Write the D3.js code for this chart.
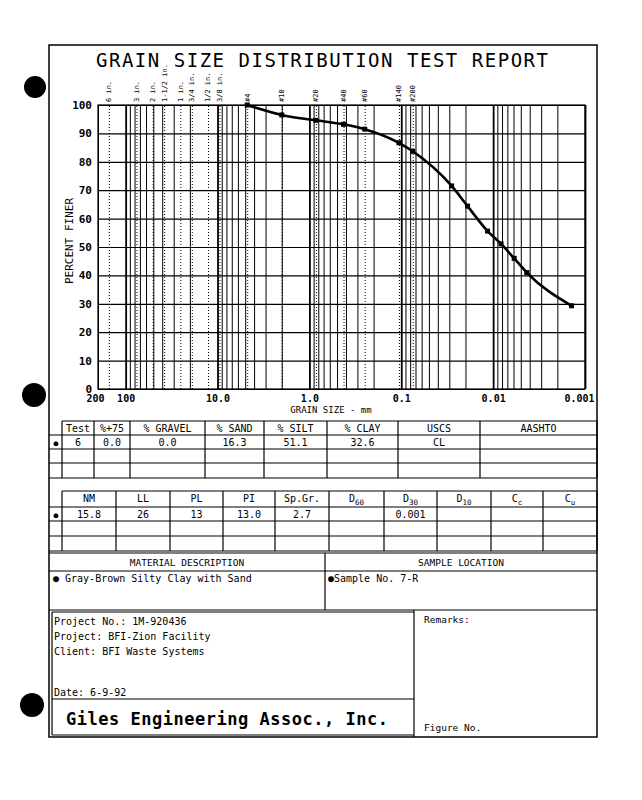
<!DOCTYPE html>
<html>
<head>
<meta charset="utf-8">
<script src="https://cdn.jsdelivr.net/npm/d3@7"></script>
<style>
  body { margin: 0; background: #fff; }
  svg text { font-family: "DejaVu Sans Mono", monospace; fill: #000; }
</style>
</head>
<body>
<svg width="642" height="800"></svg>
<script>

// sieve sizes (mm) and their names along the top
var sieveSizes = [152.4, 76.2, 50.8, 38.1, 25.4, 19.05, 12.7, 9.525, 4.75, 2.0, 0.85, 0.425, 0.25, 0.106, 0.075];
var sieveLabels = ['6 in.', '3 in.', '2 in.', '1-1/2 in.', '1 in.', '3/4 in.', '1/2 in.', '3/8 in.', '#4', '#10', '#20', '#40', '#60', '#140', '#200'];

// test 6 - sieve + hydrometer
var grainSize = [4.75, 2.0, 0.85, 0.425, 0.25, 0.106, 0.075, 0.0283, 0.019, 0.0115, 0.0082, 0.0059, 0.0043, 0.0014];
var percentFiner = [100, 96.5, 94.6, 93.2, 91.5, 86.7, 83.7, 71.5, 64.4, 55.6, 51.1, 46.0, 41.0, 29.3];

var xTickValues = [200, 100, 10, 1, 0.1, 0.01, 0.001];
var xTickLabels = ['200', '100', '10.0', '1.0', '0.1', '0.01', '0.001'];
var yTickValues = [0, 10, 20, 30, 40, 50, 60, 70, 80, 90, 100];

var testHeaders = ['Test', '%+75', '% GRAVEL', '% SAND', '% SILT', '% CLAY', 'USCS', 'AASHTO'];
var testValues = ['6', '0.0', '0.0', '16.3', '51.1', '32.6', 'CL', ''];
var limitHeaders = [['NM', ''], ['LL', ''], ['PL', ''], ['PI', ''], ['Sp.Gr.', ''], ['D', '60'], ['D', '30'], ['D', '10'], ['C', 'c'], ['C', 'u']];
var limitValues = ['15.8', '26', '13', '13.0', '2.7', '', '0.001', '', '', ''];

var materialText = 'Gray-Brown Silty Clay with Sand';
var sampleText = 'Sample No. 7-R';
var projectLines = ['Project No.: 1M-920436', 'Project: BFI-Zion Facility', 'Client: BFI Waste Systems'];
var dateText = 'Date: 6-9-92';
var companyText = 'Giles Engineering Assoc., Inc.';

var svg = d3.select('svg');

// hole punches on the left margin
svg.selectAll('circle.punch').data([[35, 87, 11], [34, 395, 12], [32, 705, 12]]).enter()
  .append('circle').attr('class', 'punch')
  .attr('cx', function(d) { return d[0]; }).attr('cy', function(d) { return d[1]; }).attr('r', function(d) { return d[2]; })
  .attr('fill', '#000');

function line(x1, y1, x2, y2, w) {
  svg.append('line').attr('x1', x1).attr('y1', y1).attr('x2', x2).attr('y2', y2)
    .attr('stroke', '#000').attr('stroke-width', w || 1.2);
}

function label(t, x, y, size, anchor) {
  return svg.append('text').attr('x', x).attr('y', y).attr('font-size', size)
    .attr('text-anchor', anchor || 'start').text(t);
}

// page frame
svg.append('rect').attr('x', 49).attr('y', 45).attr('width', 548).attr('height', 692)
  .attr('fill', 'none').attr('stroke', '#000').attr('stroke-width', 1.5);

label('GRAIN SIZE DISTRIBUTION TEST REPORT', 96, 67, 19).attr('textLength', 452).attr('lengthAdjust', 'spacing');

// ---- chart
var plotL = 98, plotR = 585, plotT = 105, plotB = 389;
var x = d3.scaleLog().domain([200, 0.001]).range([plotL, plotR]);
var y = d3.scaleLinear().domain([0, 100]).range([plotB, plotT]);

var minor = [];
for (var e = -3; e <= 2; e++) {
  for (var m = 1; m <= 9; m++) {
    var v = +(m * Math.pow(10, e)).toPrecision(3);
    if (v >= 0.001 && v <= 200) minor.push(v);
  }
}

var vgrid = svg.append('g').attr('transform', 'translate(0,' + plotB + ')')
  .call(d3.axisBottom(x).tickValues(minor).tickSize(-(plotB - plotT)).tickFormat(''));
vgrid.select('.domain').remove();
vgrid.selectAll('line').attr('stroke', '#000').attr('stroke-width', function(d) {
  return Math.abs(Math.log10(d) - Math.round(Math.log10(d))) < 1e-6 ? 1.8 : 1;
});

var sgrid = svg.append('g').attr('transform', 'translate(0,' + plotB + ')')
  .call(d3.axisBottom(x).tickValues(sieveSizes).tickSize(-(plotB - plotT)).tickFormat(''));
sgrid.select('.domain').remove();
sgrid.selectAll('line').attr('stroke', '#000').attr('stroke-width', 1).attr('stroke-dasharray', '1,2');

var hgrid = svg.append('g').attr('transform', 'translate(' + plotL + ',0)')
  .call(d3.axisLeft(y).tickValues(yTickValues).tickSize(-(plotR - plotL)).tickFormat(''));
hgrid.select('.domain').remove();
hgrid.selectAll('line').attr('stroke', '#000').attr('stroke-width', 1.2);

svg.append('rect').attr('x', plotL).attr('y', plotT).attr('width', plotR - plotL).attr('height', plotB - plotT)
  .attr('fill', 'none').attr('stroke', '#000').attr('stroke-width', 1.2);

var yAxis = svg.append('g').attr('transform', 'translate(' + plotL + ',0)')
  .call(d3.axisLeft(y).tickValues(yTickValues).tickSize(0).tickPadding(6));
yAxis.select('.domain').remove();
yAxis.selectAll('text').attr('font-size', 11).attr('font-family', '"DejaVu Sans Mono", monospace').attr('font-weight', 'bold');

var xAxis = svg.append('g').attr('transform', 'translate(0,' + plotB + ')')
  .call(d3.axisBottom(x).tickValues(xTickValues).tickSize(0).tickPadding(6)
    .tickFormat(function(d, i) { return xTickLabels[i]; }));
xAxis.select('.domain').remove();
xAxis.selectAll('text').attr('font-size', 10).attr('font-family', '"DejaVu Sans Mono", monospace').attr('font-weight', 'bold')
  .attr('text-anchor', function(d, i) { return i == xTickValues.length - 1 ? 'end' : 'middle'; })
  .attr('dx', function(d, i) { return i == 0 ? -3 : i == xTickValues.length - 1 ? 9 : 0; });

label('GRAIN SIZE - mm', 331, 413, 9, 'middle');
label('PERCENT FINER', 0, 0, 11, 'middle').attr('transform', 'translate(73,241) rotate(-90)');

// sieve names, rotated above the frame
svg.selectAll('text.sieve').data(sieveSizes).enter().append('text').attr('class', 'sieve')
  .attr('transform', function(d) { return 'translate(' + (x(d) + 2.5) + ',102) rotate(-90)'; })
  .attr('font-size', 7).text(function(d, i) { return sieveLabels[i]; });

// curve
var pts = grainSize.map(function(d, i) { return [x(d), y(percentFiner[i])]; });
svg.append('path').attr('d', d3.line().curve(d3.curveMonotoneX)(pts))
  .attr('fill', 'none').attr('stroke', '#000').attr('stroke-width', 2.6);
svg.selectAll('rect.pt').data(pts).enter().append('rect').attr('class', 'pt')
  .attr('x', function(d) { return d[0] - 2.5; }).attr('y', function(d) { return d[1] - 2.5; })
  .attr('width', 5).attr('height', 5).attr('fill', '#000');

// ---- table 1
var c1 = [62, 94, 130, 205, 264, 327, 398, 480, 597];
var r1 = [421, 435, 449, 463, 478];
line(c1[0], r1[0], 597, r1[0]);
r1.slice(1).forEach(function(r) { line(49, r, 597, r); });
c1.forEach(function(c) { line(c, r1[0], c, r1[4]); });
testHeaders.forEach(function(h, i) { label(h, (c1[i] + c1[i + 1]) / 2, r1[0] + 11, 10, 'middle'); });
testValues.forEach(function(v, i) { label(v, (c1[i] + c1[i + 1]) / 2, r1[1] + 11, 10, 'middle'); });
label('\u25CF', 56, r1[1] + 10.5, 8, 'middle');

// ---- table 2
var c2 = [62, 116, 170, 223, 275, 329, 384, 437, 491, 543, 597];
var r2 = [491, 507, 521, 536, 551];
line(c2[0], r2[0], 597, r2[0]);
r2.slice(1).forEach(function(r) { line(49, r, 597, r); });
c2.forEach(function(c) { line(c, r2[0], c, r2[4]); });
limitHeaders.forEach(function(h, i) {
  var t = label(h[0], (c2[i] + c2[i + 1]) / 2, r2[0] + 11, 10, 'middle');
  if (h[1]) t.append('tspan').attr('font-size', 7.5).attr('dy', 3).text(h[1]);
});
limitValues.forEach(function(v, i) { label(v, (c2[i] + c2[i + 1]) / 2, r2[1] + 11, 10, 'middle'); });
label('\u25CF', 56, r2[1] + 10.5, 8, 'middle');

// ---- material / location
line(49, 553, 597, 553);
line(49, 571, 597, 571);
line(325, 553, 325, 610);
line(49, 610, 597, 610);
label('MATERIAL DESCRIPTION', 187, 566, 9.5, 'middle');
label('SAMPLE LOCATION', 461, 566, 9.5, 'middle');
label('\u25CF ' + materialText, 53, 582, 10);
label('\u25CF' + sampleText, 328, 582, 10);

// ---- project block
line(52, 612, 52, 735);
line(52, 612, 414, 612);
line(414, 610, 414, 737);
line(52, 699, 414, 699);
line(52, 735, 414, 735);
projectLines.forEach(function(t, i) { label(t, 54, 625 + i * 15, 10); });
label(dateText, 54, 696, 10);
label(companyText, 66, 725, 17).attr('font-weight', 'bold').attr('textLength', 322).attr('lengthAdjust', 'spacing');
label('Remarks:', 424, 623, 9.5);
label('Figure No.', 424, 731, 9.5);

</script>
</body>
</html>
